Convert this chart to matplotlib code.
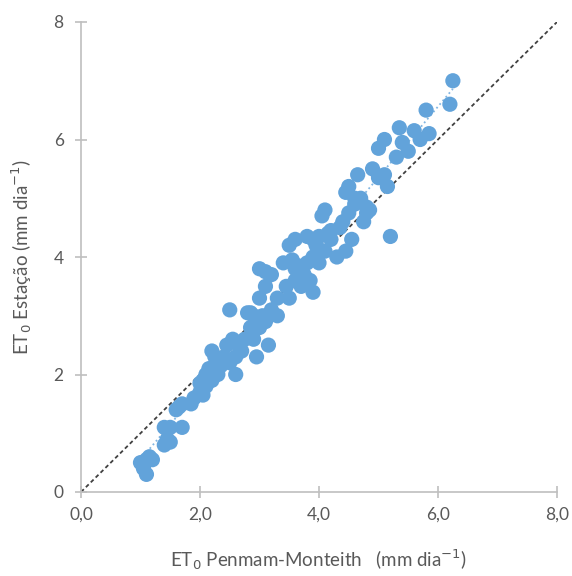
import matplotlib
matplotlib.use("Agg")
import matplotlib.pyplot as plt
import numpy as np

# ETo Penman-Monteith (x) vs ETo Estação (y), mm/dia
eto_pm = [1.0, 1.05, 1.1, 1.1, 1.15, 1.2, 1.05,
          1.4, 1.45, 1.5, 1.4, 1.5, 1.7, 1.65, 1.7, 1.85, 1.9, 2.0, 2.0, 2.05,
          2.1, 2.1, 2.15, 2.2, 2.2, 2.3, 2.35, 2.4, 2.45, 2.5, 2.5, 2.55, 2.6,
          2.6, 2.65, 2.7, 2.75, 2.8, 2.85, 2.9, 2.9, 2.95, 3.0, 3.0, 3.0, 3.05,
          3.1, 3.1, 3.15, 3.2, 3.2, 3.3, 3.3, 3.4, 3.45, 3.5, 3.5, 3.6, 3.6,
          3.6, 3.7, 3.75, 3.8, 3.8, 3.85, 3.9, 3.9, 3.95, 4.0, 4.0, 4.05, 4.1,
          4.1, 4.15, 4.2, 4.3, 4.35, 4.4, 4.45, 4.5, 4.5, 4.55, 4.6, 4.65, 4.7,
          4.75, 4.8, 4.85, 4.9, 5.0, 5.0, 5.1, 5.1, 5.15, 5.2, 5.3, 5.35, 5.4,
          5.5, 5.6, 5.7, 5.8, 5.85, 6.2, 6.25,
          3.1, 2.85, 3.55, 3.9, 4.45, 4.6, 4.8, 2.25, 2.05, 1.6, 3.65, 4.2]
eto_est = [0.5, 0.45, 0.3, 0.55, 0.6, 0.55, 0.4,
           0.8, 0.9, 1.1, 1.1, 0.85, 1.1, 1.45, 1.5, 1.5, 1.6, 1.7, 1.85, 1.65,
           1.8, 2.0, 2.1, 2.4, 1.9, 2.0, 2.15, 2.3, 2.5, 2.2, 3.1, 2.6, 2.3,
           2.0, 2.5, 2.4, 2.6, 3.05, 2.8, 2.6, 3.0, 2.3, 3.8, 2.8, 3.3, 3.0,
           3.5, 2.9, 2.5, 3.1, 3.7, 3.3, 3.0, 3.9, 3.5, 4.2, 3.3, 4.3, 3.8,
           3.6, 3.5, 3.7, 4.35, 3.9, 3.6, 3.4, 4.0, 4.2, 4.35, 3.9, 4.7, 4.8,
           4.1, 4.4, 4.3, 4.0, 4.5, 4.6, 4.1, 4.75, 5.2, 4.3, 4.9, 5.4, 5.0,
           4.6, 4.85, 4.8, 5.5, 5.35, 5.85, 6.0, 5.4, 5.2, 4.35, 5.7, 6.2, 5.95,
           5.8, 6.15, 6.0, 6.5, 6.1, 6.6, 7.0,
           3.75, 3.05, 3.95, 4.3, 5.1, 5.0, 4.75, 2.3, 1.9, 1.4, 3.85, 4.45]

x_ticks = [0, 2, 4, 6, 8]
x_ticklabels = ["0,0", "2,0", "4,0", "6,0", "8,0"]
y_ticks = [0, 2, 4, 6, 8]
y_ticklabels = ["0", "2", "4", "6", "8"]

plt.rcParams['font.family'] = ['Lato', 'DejaVu Sans']

fig = plt.figure(figsize=(5.72, 5.76), dpi=100)
ax = fig.add_axes([81/572, 84/576, 476/572, 470/576])

x = np.array(eto_pm)
y = np.array(eto_est)
blue = '#62A3DA'

# 1:1 line
ax.plot([0, 8], [0, 8], linestyle=(0, (2.2, 1.6)), color='#404040', lw=1.3, zorder=2)
# trend line
k, b = np.polyfit(x, y, 1)
xs = np.array([x.min(), x.max()])
ax.plot(xs, k*xs + b, linestyle=':', color=blue, lw=1.3, alpha=0.8, zorder=2)

ax.scatter(x, y, s=120, color=blue, edgecolors='none', zorder=3)

ax.set_xlim(0, 8)
ax.set_ylim(0, 8)
ax.set_xticks(x_ticks)
ax.set_xticklabels(x_ticklabels)
ax.set_yticks(y_ticks)
ax.set_yticklabels(y_ticklabels)

for s in ['top', 'right']:
    ax.spines[s].set_visible(False)
for s in ['left', 'bottom']:
    ax.spines[s].set_color('#BFBFBF')
    ax.spines[s].set_linewidth(1.2)
ax.tick_params(direction='inout', length=9, width=1.2, color='#BFBFBF',
               labelcolor='#595959', labelsize=12.5)
ax.tick_params(axis='x', pad=6)
ax.tick_params(axis='y', pad=8)

ax.set_xlabel(r'ET$_{\mathrm{0}}$ Penmam-Monteith   (mm dia$^{\mathrm{-1}}$)',
              fontsize=13.5, color='#595959', labelpad=18)
ax.set_ylabel(r'ET$_{\mathrm{0}}$ Estação (mm dia$^{\mathrm{-1}}$)',
              fontsize=13.5, color='#595959', labelpad=14)

fig.savefig('out.png', dpi=100)
